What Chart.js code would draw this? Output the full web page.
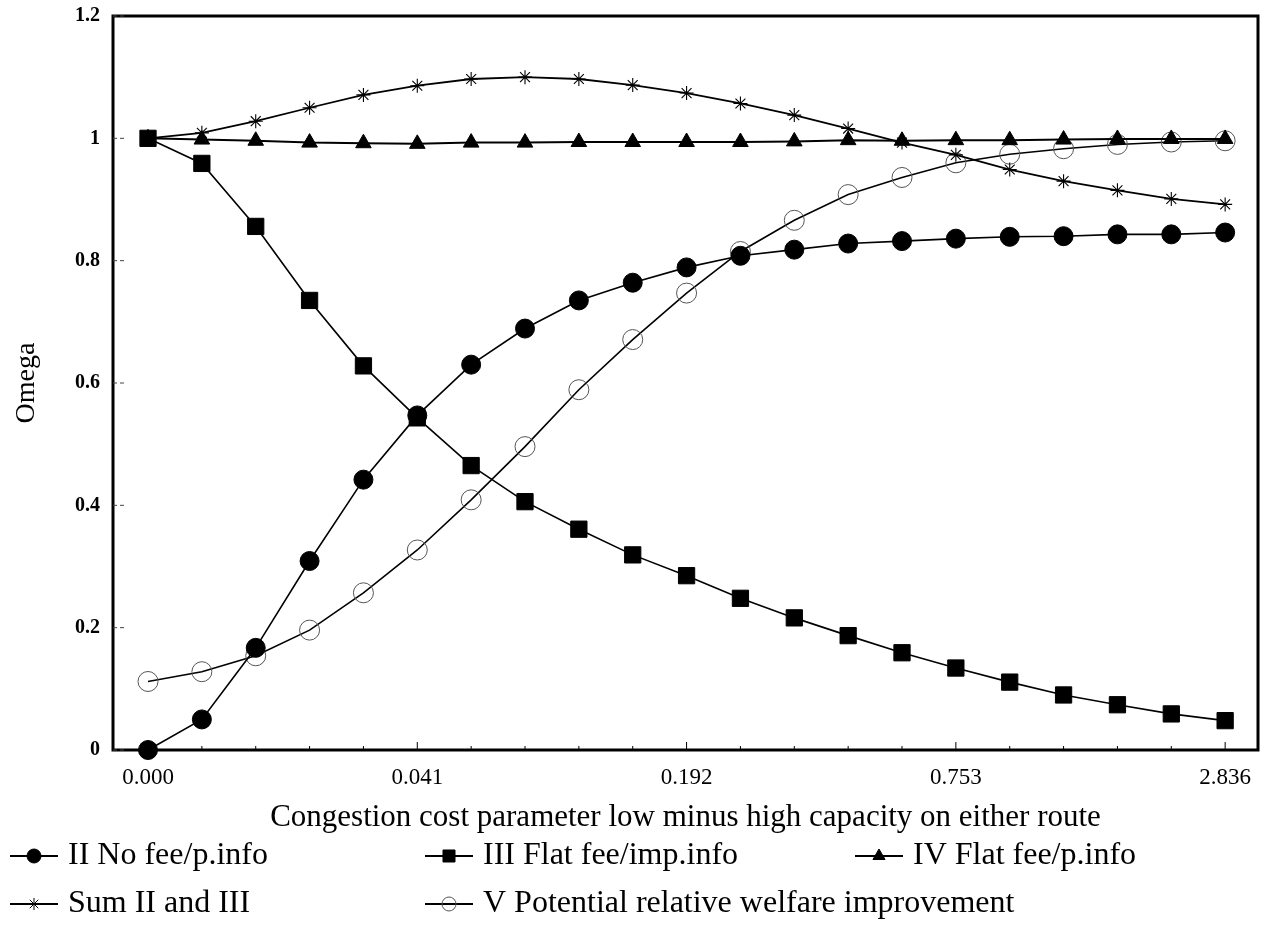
<!DOCTYPE html>
<html>
<head>
<meta charset="utf-8">
<script src="https://cdn.jsdelivr.net/npm/chart.js@4/dist/chart.umd.min.js"></script>
<style>
  html, body { margin: 0; padding: 0; background: #ffffff; }
  #wrap { width: 1264px; height: 942px; position: relative; }
</style>
</head>
<body>
<div id="wrap"><canvas id="c" width="1264" height="942"></canvas></div>
<script>
// ---- data ----
const xPositions = [0,1,2,3,4,5,6,7,8,9,10,11,12,13,14,15,16,17,18,19,20];
const xTickPositions = [0,5,10,15,20];
const xTickLabels = ['0.000','0.041','0.192','0.753','2.836'];
const yTickValues = [0,0.2,0.4,0.6,0.8,1,1.2];
const yTickLabels = ['0','0.2','0.4','0.6','0.8','1','1.2'];
const seriesLabels = ['II No fee/p.info','III Flat fee/imp.info','IV Flat fee/p.info','Sum II and III','V Potential relative welfare improvement'];
const noFeePInfo   = [0.000,0.050,0.167,0.309,0.442,0.547,0.630,0.689,0.735,0.764,0.789,0.808,0.818,0.828,0.832,0.836,0.839,0.840,0.843,0.843,0.846];
const flatFeeImp   = [1.000,0.959,0.856,0.735,0.628,0.543,0.465,0.406,0.361,0.319,0.285,0.248,0.216,0.187,0.159,0.134,0.111,0.090,0.074,0.059,0.048];
const flatFeePInfo = [1.000,0.998,0.996,0.993,0.992,0.991,0.993,0.993,0.994,0.994,0.994,0.994,0.995,0.997,0.996,0.997,0.997,0.998,0.999,0.999,0.999];
const sumIIandIII  = [1.000,1.009,1.028,1.050,1.071,1.086,1.097,1.100,1.097,1.087,1.074,1.057,1.038,1.016,0.993,0.973,0.949,0.930,0.915,0.901,0.892];
const potentialImp = [0.112,0.128,0.154,0.196,0.257,0.327,0.409,0.496,0.589,0.671,0.747,0.815,0.866,0.908,0.936,0.960,0.974,0.983,0.990,0.994,0.996];
const xTitle = 'Congestion cost parameter low minus high capacity on either route';
const yTitle = 'Omega';

const toPoints = arr => arr.map((v, i) => ({ x: xPositions[i], y: v }));
const SERIF = '"Liberation Serif", "Times New Roman", serif';

function mkDataset(label, values, style, extra) {
  return Object.assign({
    label: label,
    data: toPoints(values),
    borderColor: '#000',
    borderWidth: 1.6,
    backgroundColor: '#000',
    pointStyle: style,
    pointBackgroundColor: '#000',
    pointBorderColor: '#000',
    pointBorderWidth: 1,
    pointRadius: 9,
    pointHoverRadius: 9,
    tension: 0,
    fill: false,
    clip: false
  }, extra || {});
}

const datasets = [
  mkDataset(seriesLabels[0], noFeePInfo, 'circle', { pointRadius: 9.5, legendRadius: 7 }),
  mkDataset(seriesLabels[1], flatFeeImp, 'rect', { pointRadius: 11.5, legendRadius: 8.5 }),
  mkDataset(seriesLabels[2], flatFeePInfo, 'triangle', { pointRadius: 9, borderWidth: 2, legendRadius: 7 }),
  mkDataset(seriesLabels[3], sumIIandIII, 'star', { pointRadius: 7, borderWidth: 1.8, pointBorderWidth: 1.1, legendRadius: 6 }),
  mkDataset(seriesLabels[4], potentialImp, 'circle', { pointRadius: 10, pointBackgroundColor: 'rgba(0,0,0,0)', pointBorderColor: '#555', pointBorderWidth: 1, legendRadius: 7, legendFill: 'rgba(0,0,0,0)', legendStroke: '#555' })
];

// frame + minor ticks
const framePlugin = {
  id: 'frame',
  beforeDatasetsDraw(chart) {
    const { ctx, chartArea: a, scales } = chart;
    ctx.save();
    ctx.strokeStyle = '#000';
    ctx.lineWidth = 3;
    ctx.strokeRect(a.left, a.top, a.right - a.left, a.bottom - a.top);
    ctx.lineWidth = 1;
    xPositions.forEach(v => {
      const px = scales.x.getPixelForValue(v);
      const len = xTickPositions.includes(v) ? 8 : 4;
      ctx.beginPath(); ctx.moveTo(px, a.bottom); ctx.lineTo(px, a.bottom - len); ctx.stroke();
    });
    ctx.strokeStyle = '#444';
    ctx.setLineDash([4, 3]);
    yTickValues.forEach(v => {
      const py = scales.y.getPixelForValue(v);
      ctx.beginPath(); ctx.moveTo(a.left, py); ctx.lineTo(a.left + 14, py); ctx.stroke();
    });
    ctx.restore();
  }
};

function drawMarker(ctx, style, x, y, r, fill, stroke, bw) {
  ctx.save();
  ctx.fillStyle = fill; ctx.strokeStyle = stroke; ctx.lineWidth = bw;
  if (Chart.helpers && Chart.helpers.drawPoint) {
    Chart.helpers.drawPoint(ctx, { pointStyle: style, radius: r, rotation: 0, borderWidth: bw }, x, y);
  } else {
    ctx.beginPath(); ctx.arc(x, y, r, 0, Math.PI * 2); ctx.fill(); ctx.stroke();
  }
  ctx.restore();
}

const legendPlugin = {
  id: 'gridLegend',
  afterDraw(chart) {
    const ctx = chart.ctx;
    const slots = [[10, 856], [425, 856], [855, 856], [10, 904], [425, 904]];
    chart.data.datasets.forEach((ds, i) => {
      const [x0, y] = slots[i];
      ctx.save();
      ctx.strokeStyle = '#000'; ctx.lineWidth = 2;
      ctx.beginPath(); ctx.moveTo(x0, y); ctx.lineTo(x0 + 48, y); ctx.stroke();
      drawMarker(ctx, ds.pointStyle, x0 + 24, y, ds.legendRadius,
        ds.legendFill || '#000', ds.legendStroke || '#000', 1);
      ctx.fillStyle = '#000';
      ctx.font = '32px ' + SERIF;
      ctx.textBaseline = 'middle';
      ctx.textAlign = 'left';
      ctx.fillText(ds.label, x0 + 58, y);
      ctx.restore();
    });
  }
};

new Chart(document.getElementById('c'), {
  type: 'line',
  data: { datasets: datasets },
  options: {
    responsive: false,
    devicePixelRatio: 1,
    animation: false,
    events: [],
    layout: { autoPadding: false, padding: { left: 0, right: 6, top: 16, bottom: 106 } },
    plugins: { legend: { display: false }, tooltip: { enabled: false } },
    scales: {
      x: {
        type: 'linear',
        min: -0.65,
        max: 20.61,
        grid: { display: false, drawTicks: false },
        border: { display: false },
        afterBuildTicks: s => { s.ticks = xTickPositions.map(v => ({ value: v })); },
        afterFit: s => { s.height = 86; s.paddingLeft = 0; s.paddingRight = 0; },
        ticks: {
          autoSkip: false,
          maxRotation: 0,
          padding: 14,
          color: '#000',
          font: { family: SERIF, size: 23 },
          callback: (v) => { const k = xTickPositions.indexOf(v); return k >= 0 ? xTickLabels[k] : ''; }
        },
        title: { display: true, text: xTitle, color: '#000', font: { family: SERIF, size: 31 }, padding: { top: 0, bottom: 0 } }
      },
      y: {
        type: 'linear',
        min: 0,
        max: 1.2,
        grid: { display: false, drawTicks: false },
        border: { display: false },
        afterBuildTicks: s => { s.ticks = yTickValues.map(v => ({ value: v })); },
        afterFit: s => { s.width = 113; s.paddingTop = 0; s.paddingBottom = 0; },
        ticks: {
          padding: 13,
          color: '#000',
          font: { family: SERIF, size: 20, weight: 'bold' },
          callback: (v) => { const k = yTickValues.findIndex(t => Math.abs(t - v) < 1e-9); return k >= 0 ? yTickLabels[k] : ''; }
        },
        title: { display: true, text: yTitle, color: '#000', font: { family: SERIF, size: 28 }, padding: { top: 10, bottom: 0 } }
      }
    }
  },
  plugins: [framePlugin, legendPlugin]
});
</script>
</body>
</html>
